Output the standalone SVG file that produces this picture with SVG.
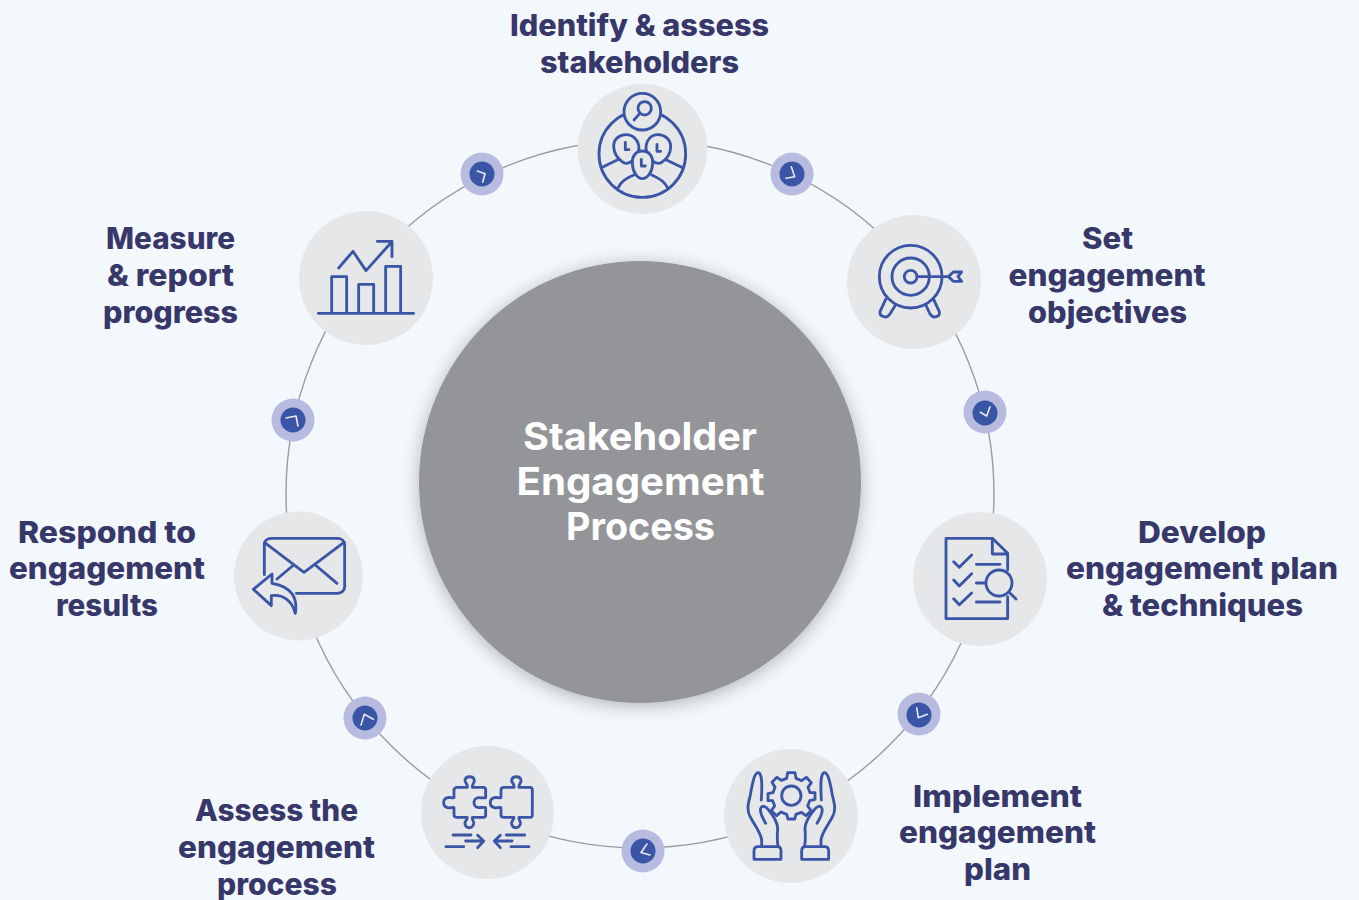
<svg xmlns="http://www.w3.org/2000/svg" width="1359" height="900" viewBox="0 0 1359 900">
<style>
.lb{font-family:Inter,"Liberation Sans",sans-serif;font-weight:800;font-size:30px;fill:#37376a;text-anchor:middle}
.ct{font-family:Inter,"Liberation Sans",sans-serif;font-weight:700;font-size:38px;fill:#fff;text-anchor:middle}
.nd{fill:#e6e7e8}
.ic{fill:none;stroke:#3a55a5;stroke-width:8.500;stroke-linecap:round;stroke-linejoin:round}
.hd{fill:#e6e7e8;stroke:#3a55a5;stroke-width:8.500}
.do{fill:#b7bbdf}
.di{fill:#3a55a5}
.ha{fill:none;stroke:#e8e9f2;stroke-width:1.6;stroke-linecap:round;stroke-linejoin:round}
</style>
<defs>
<filter id="sh" x="-20%" y="-20%" width="140%" height="140%"><feDropShadow dx="0" dy="3" stdDeviation="9" flood-color="#000" flood-opacity=".28"/></filter>
</defs>
<rect width="1359" height="900" fill="#f3f8fd"/>
<g id="connectors">
<circle cx="640" cy="494" r="354" fill="none" stroke="#9a9ca0" stroke-width="1.4"/>
<g id="clock-1"><circle class="do" cx="482" cy="174" r="21.5"/><circle class="di" cx="482" cy="174" r="12.5"/><path class="ha" d="M477.3 171L485 173.7L482.7 182.3"/></g>
<g id="clock-2"><circle class="do" cx="792" cy="174" r="21.5"/><circle class="di" cx="792" cy="174" r="12.5"/><path class="ha" d="M791.3 166.7L794.7 176.7L786 178.3"/></g>
<g id="clock-3"><circle class="do" cx="985" cy="412" r="21.5"/><circle class="di" cx="985" cy="413" r="12.5"/><path class="ha" d="M990 406.7L986.7 416L980.3 412.3"/></g>
<g id="clock-4"><circle class="do" cx="919" cy="714" r="21.5"/><circle class="di" cx="919" cy="715" r="12.5"/><path class="ha" d="M916.7 707.7L918.3 717.7L927.3 714.3"/></g>
<g id="clock-5"><circle class="do" cx="643" cy="851" r="21.5"/><circle class="di" cx="643" cy="851" r="12.5"/><path class="ha" d="M647 844L641 852.500L650 855"/></g>
<g id="clock-6"><circle class="do" cx="365" cy="718" r="21.5"/><circle class="di" cx="365" cy="718" r="12.5"/><path class="ha" d="M361 725L364.3 714.3L373.3 719.3"/></g>
<g id="clock-7"><circle class="do" cx="293" cy="420" r="21.5"/><circle class="di" cx="293" cy="420" r="12.5"/><path class="ha" d="M286 418L296 416L298 426"/></g>
</g>
<g id="center"><circle cx="640" cy="482" r="221" fill="#939598" filter="url(#sh)"/>
<text class="ct" x="640" y="449.500" textLength="234" lengthAdjust="spacingAndGlyphs">Stakeholder</text>
<text class="ct" x="640.500" y="494.500" textLength="248" lengthAdjust="spacingAndGlyphs">Engagement</text>
<text class="ct" x="640.500" y="539.500" textLength="149" lengthAdjust="spacingAndGlyphs">Process</text></g>
<g id="node-identify"><circle class="nd" cx="642.500" cy="149" r="65"/>
<g transform="translate(570 80) scale(.3333)"><circle class="ic" cx="217" cy="222" r="130"/><circle class="hd" cx="217" cy="95" r="55"/><circle class="ic" cx="224" cy="85" r="20"/><path class="ic" d="M192 120L209 101"/>
<path class="ic" d="M97 262L146 238M285 238L335 262M145 322C155 302 172 292 192 285M245 285C262 292 282 302 292 322"/>
<path class="hd" d="M168 164C148 164 130 178 131 200C132 220 142 236 160 248C178 256 202 236 207 205C206 180 188 164 168 164Z"/><path class="hd" d="M264 164C244 164 228 180 228 205C232 236 256 256 274 248C292 236 302 220 302 200C302 178 284 164 264 164Z"/><path class="hd" d="M217 213C196 213 186 230 187 250C188 276 202 296 217 296C232 296 247 276 248 250C249 230 238 213 217 213Z"/>
<path class="ic" d="M166 187V209H177M261 193V214H272M214 238V258H226"/></g></g>
<g id="node-objectives"><circle class="nd" cx="914" cy="282" r="67"/>
<g transform="translate(840 210) scale(.3333)"><circle class="ic" cx="212" cy="200" r="94"/><circle class="ic" cx="212" cy="200" r="56"/><circle class="ic" cx="212" cy="200" r="19"/><path class="ic" d="M231 200H325L340 186H365L354 200L365 214H340L325 200Z"/><path class="ic" d="M137 268L120 305C118 320 140 328 150 312L166 286M258 286L270 312C280 328 302 320 298 305L281 268"/></g></g>
<g id="node-plan"><circle class="nd" cx="980" cy="579" r="67"/>
<g transform="translate(905 510) scale(.3333)"><path class="ic" d="M308 180V130L262 85H123V326H308V260M262 85V132H308"/><path class="ic" d="M146 155L163 172L200 135M146 210L163 228L200 191M146 266L163 284L200 249M214 163H285M214 219H240M214 276H285M314 248L333 267"/><circle class="ic" cx="282" cy="219" r="39"/></g></g>
<g id="node-implement"><circle class="nd" cx="791" cy="816" r="67"/>
<g transform="translate(720 745) scale(.3333)"><circle class="ic" cx="214" cy="152" r="29"/>
<path class="ic" d="M203 83H225L228 100L245 107L259 97L274 113L264 127L270 143H285V163L269 167L263 183L273 197L258 212L244 202L228 208L224 222H204L200 208L183 201L170 212L154 197L164 183L158 167H144V146L159 143L165 127L156 112L171 97L184 106L200 100Z"/>
<path class="ic" d="M124 165C126 130 128 82 114 83C103 84 97 115 91 150C85 175 78 195 92 218C103 240 122 262 125 285V305"/><path class="ic" d="M137 235C130 222 118 205 122 190C128 178 138 186 146 195C160 212 172 228 173 250C172 270 170 290 175 305"/><path class="ic" d="M102 343V318C102 310 106 305 114 305H172C180 305 183 310 183 318V343Z"/>
<path class="ic" d="M304 165C302 130 300 82 314 83C325 84 331 115 337 150C343 175 350 195 336 218C325 240 306 262 303 285V305"/><path class="ic" d="M291 235C298 222 310 205 306 190C300 178 290 186 282 195C268 212 256 228 255 250C256 270 258 290 253 305"/><path class="ic" d="M326 343V318C326 310 322 305 314 305H256C248 305 245 310 245 318V343Z"/></g></g>
<g id="node-assess"><circle class="nd" cx="487.500" cy="812.500" r="66.500"/>
<g transform="translate(415 745) scale(.3333)"><path class="ic" d="M117 135C117 130 122 127 127 127H157C160 118 148 112 150 105C153 92 175 92 178 105C180 113 170 118 172 127H205C210 127 212 130 212 135V158C204 160 200 158 192 158C172 158 172 188 192 188C200 188 204 186 212 188V210C212 215 208 217 205 217H172C170 224 178 228 176 237C172 252 153 252 150 237C148 228 158 224 157 217H127C122 217 117 215 117 210V188C110 186 106 190 98 188C82 184 82 162 98 158C106 156 110 160 117 158Z"/>
<path class="ic" d="M258 135C258 130 262 127 267 127H297C300 118 288 112 290 105C293 92 315 92 318 105C320 113 310 118 312 127H345C350 127 352 130 352 135V210C352 215 348 217 345 217H312C310 224 318 228 316 237C312 252 293 252 290 237C288 228 298 224 297 217H267C262 217 258 215 258 210V188C250 186 246 190 238 188C222 184 222 162 238 158C246 156 250 160 258 158Z"/>
<path class="ic" d="M114 270H168M93 305H146M152 288H205M188 271L206 288L188 308M274 270H329M288 305H342M238 288H291M256 271L238 288L256 308"/></g></g>
<g id="node-respond"><circle class="nd" cx="298.500" cy="576" r="64.500"/>
<g transform="translate(228 508) scale(.3333)"><path class="ic" d="M109 200V110C109 98 118 91 130 91H328C340 91 350 98 350 110V236C350 248 340 256 328 256H205"/><path class="ic" d="M113 106L228 193L344 106M197 171L147 213M262 171L327 226"/><path class="ic" d="M132 198L76 244L130 293V263C165 258 192 278 202 316C210 270 190 235 132 226Z"/></g></g>
<g id="node-measure"><circle class="nd" cx="366" cy="278" r="67"/>
<g transform="translate(295 208) scale(.3333)"><path class="ic" d="M70 316H356M110 316V206H155V316M191 316V229H236V316M272 316V175H317V316M131 180L174 130L213 188L290 102M247 100H291V146"/></g></g>
<g id="labels">
<text class="lb" x="639.500" y="36" textLength="259" lengthAdjust="spacingAndGlyphs">Identify &amp; assess</text>
<text class="lb" x="639.500" y="73" textLength="199" lengthAdjust="spacingAndGlyphs">stakeholders</text>
<text class="lb" x="1107.500" y="249" textLength="51" lengthAdjust="spacingAndGlyphs">Set</text>
<text class="lb" x="1107" y="286" textLength="197" lengthAdjust="spacingAndGlyphs">engagement</text>
<text class="lb" x="1107.500" y="323" textLength="159" lengthAdjust="spacingAndGlyphs">objectives</text>
<text class="lb" x="1202" y="543" textLength="128" lengthAdjust="spacingAndGlyphs">Develop</text>
<text class="lb" x="1202" y="579" textLength="272" lengthAdjust="spacingAndGlyphs">engagement plan</text>
<text class="lb" x="1202.500" y="616" textLength="201" lengthAdjust="spacingAndGlyphs">&amp; techniques</text>
<text class="lb" x="997.500" y="807" textLength="169" lengthAdjust="spacingAndGlyphs">Implement</text>
<text class="lb" x="997.500" y="843" textLength="197" lengthAdjust="spacingAndGlyphs">engagement</text>
<text class="lb" x="997.500" y="880" textLength="67" lengthAdjust="spacingAndGlyphs">plan</text>
<text class="lb" x="276.500" y="821" textLength="163" lengthAdjust="spacingAndGlyphs">Assess the</text>
<text class="lb" x="276.500" y="858" textLength="197" lengthAdjust="spacingAndGlyphs">engagement</text>
<text class="lb" x="277" y="895" textLength="120" lengthAdjust="spacingAndGlyphs">process</text>
<text class="lb" x="107" y="543" textLength="178" lengthAdjust="spacingAndGlyphs">Respond to</text>
<text class="lb" x="107" y="579" textLength="196" lengthAdjust="spacingAndGlyphs">engagement</text>
<text class="lb" x="107" y="616" textLength="102" lengthAdjust="spacingAndGlyphs">results</text>
<text class="lb" x="170.500" y="249" textLength="129" lengthAdjust="spacingAndGlyphs">Measure</text>
<text class="lb" x="170.500" y="286" textLength="127" lengthAdjust="spacingAndGlyphs">&amp; report</text>
<text class="lb" x="170.500" y="323" textLength="135" lengthAdjust="spacingAndGlyphs">progress</text>
</g>
</svg>
